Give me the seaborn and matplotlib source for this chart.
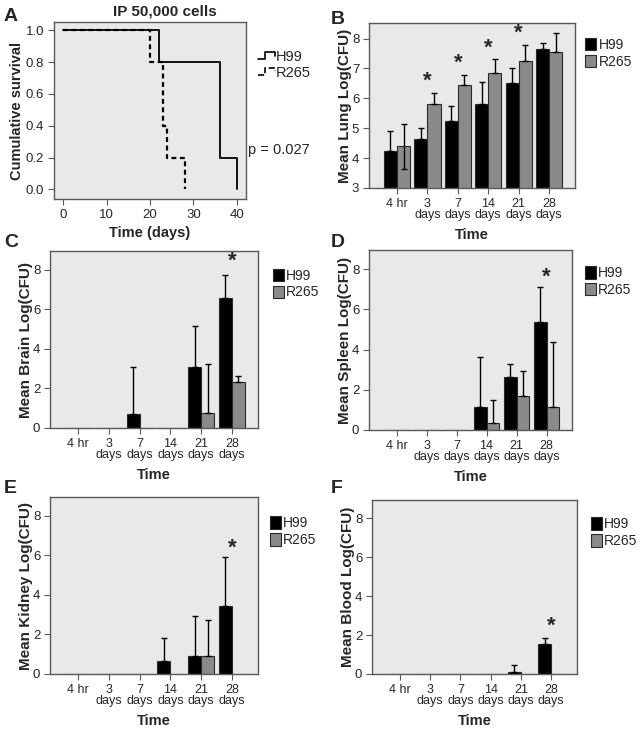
import numpy as np
import pandas as pd
import matplotlib
matplotlib.use('Agg')
import matplotlib.pyplot as plt
import seaborn as sns
from matplotlib.lines import Line2D
from matplotlib.legend_handler import HandlerBase

# Survival data (panel A)
h99_time = [0, 22, 36, 40]
h99_surv = [1.0, 0.8, 0.2, 0.0]
r265_time = [0, 20, 23, 24, 28]
r265_surv = [1.0, 0.8, 0.4, 0.2, 0.0]

# Organ burden data (panels B-F)
times = ['4 hr', '3\ndays', '7\ndays', '14\ndays', '21\ndays', '28\ndays']
strains = ['H99', 'R265']
nan = np.nan

lung_h99 = [4.25, 4.65, 5.25, 5.8, 6.5, 7.65]
lung_r265 = [4.4, 5.8, 6.45, 6.85, 7.25, 7.55]
lung_h99_top = [4.9, 5.0, 5.73, 6.53, 7.0, 7.85]
lung_r265_top = [5.15, 6.17, 6.77, 7.33, 7.78, 8.2]
lung_r265_low = [3.65, nan, nan, nan, nan, nan]
lung_sig = [1, 2, 3, 4]
lung_sig_y = [6.56, 7.19, 7.67, 8.17]

brain_h99 = [0, 0, 0.7, 0, 3.1, 6.6]
brain_r265 = [0, 0, 0, 0, 0.75, 2.35]
brain_h99_top = [nan, nan, 3.1, nan, 5.15, 7.75]
brain_r265_top = [nan, nan, nan, nan, 3.25, 2.65]

spleen_h99 = [0, 0, 0, 1.15, 2.65, 5.4]
spleen_r265 = [0, 0, 0, 0.35, 1.7, 1.15]
spleen_h99_top = [nan, nan, nan, 3.65, 3.3, 7.1]
spleen_r265_top = [nan, nan, nan, 1.5, 2.95, 4.4]

kidney_h99 = [0, 0, 0, 0.68, 0.9, 3.45]
kidney_r265 = [0, 0, 0, 0, 0.92, 0]
kidney_h99_top = [nan, nan, nan, 1.82, 2.93, 5.93]
kidney_r265_top = [nan, nan, nan, nan, 2.72, nan]

blood_h99 = [0, 0, 0, 0, 0.08, 1.52]
blood_r265 = [0, 0, 0, 0, 0, 0]
blood_h99_top = [nan, nan, nan, nan, 0.45, 1.85]
blood_r265_top = [nan, nan, nan, nan, nan, nan]

sns.set_style('white')
plt.rcParams['font.family'] = ['Liberation Sans', 'DejaVu Sans']

BG = '#e9e9e9'
SPINE = '#5a5a5a'
GREY = '#8a8a8a'

fig = plt.figure(figsize=(6.4, 7.35), dpi=100)
W, H = 640, 735


def add_ax(left, right, top, bottom):
    return fig.add_axes([left / W, 1 - bottom / H, (right - left) / W, (bottom - top) / H])


def style_ax(ax, size=9.5):
    ax.set_facecolor(BG)
    for s in ax.spines.values():
        s.set_color(SPINE)
        s.set_linewidth(1.0)
    ax.tick_params(axis='both', direction='out', length=4.5, width=0.8, color=SPINE,
                   labelsize=size, pad=2.5, left=True, bottom=True)


class StepHandler(HandlerBase):
    def create_artists(self, legend, orig_handle, xdescent, ydescent, width, height, fontsize, trans):
        x = np.array([0, 0.45, 0.45, 1.0, 1.0]) * width - xdescent
        y = np.array([0.2, 0.2, 0.9, 0.9, 0.55]) * height - ydescent
        ln = Line2D(x, y, color='black', lw=1.2, linestyle=orig_handle.get_linestyle())
        ln.set_transform(trans)
        return [ln]


def bar_panel(ax, h99, r265, h99_top, r265_top, ylabel, ylim, yticks,
              sig, sig_y, leg_anchor, r265_low=None):
    df = pd.DataFrame({'Time': times * 2,
                       'Strain': ['H99'] * 6 + ['R265'] * 6,
                       'value': h99 + r265})
    sns.barplot(data=df, x='Time', y='value', hue='Strain', order=times,
                hue_order=strains, palette={'H99': 'black', 'R265': GREY},
                width=0.86, errorbar=None, edgecolor='#2a2a2a', linewidth=0.8,
                saturation=1, legend=False, ax=ax, zorder=2)
    lows = [None, r265_low]
    for cont, mean, top, low in zip(ax.containers, [h99, r265], [h99_top, r265_top], lows):
        xs = np.array([b.get_x() + b.get_width() / 2 for b in cont])
        m = np.array(mean, dtype=float)
        t = np.array(top, dtype=float)
        lo = np.zeros_like(m) if low is None else np.nan_to_num(m - np.array(low, dtype=float))
        ok = ~np.isnan(t)
        ax.errorbar(xs[ok], m[ok], yerr=[lo[ok], (t - m)[ok]], fmt='none',
                    ecolor='black', elinewidth=1.0, capsize=2.5, capthick=1.0, zorder=3)
    for i, yv in zip(sig, sig_y):
        ax.text(i, yv, '*', ha='center', va='center', fontsize=16, fontweight='bold')
    ax.set_xlim(-0.92, 5.85)
    ax.set_ylim(*ylim)
    ax.set_yticks(yticks)
    ax.set_xlabel('Time', fontsize=10.5, fontweight='bold', labelpad=5)
    ax.set_ylabel(ylabel, fontsize=11, fontweight='bold', labelpad=0)
    style_ax(ax)
    ax.tick_params(axis='x', labelsize=9)
    for lbl in ax.get_xticklabels():
        lbl.set_linespacing(0.95)
    ax.legend(ax.containers, strains, loc='upper left', bbox_to_anchor=leg_anchor,
              frameon=False, fontsize=10, handlelength=0.8, handleheight=1.0,
              handletextpad=0.15, labelspacing=0.2, borderaxespad=0, borderpad=0)


# Panel A: survival
axA = add_ax(54, 246, 22, 199)
sns.lineplot(x=h99_time, y=h99_surv, drawstyle='steps-post', color='black',
             lw=1.3, ax=axA, sort=False)
sns.lineplot(x=r265_time, y=r265_surv, drawstyle='steps-post', color='black',
             lw=1.6, ax=axA, sort=False, linestyle=(0, (2.2, 1.6)))
axA.set_xlim(-2.1, 42.1)
axA.set_ylim(-0.06, 1.052)
axA.set_xticks([0, 10, 20, 30, 40])
axA.set_yticks([0, 0.2, 0.4, 0.6, 0.8, 1.0])
axA.set_yticklabels(['0.0', '0.2', '0.4', '0.6', '0.8', '1.0'])
style_ax(axA, size=9.5)
axA.set_xlabel('Time (days)', fontsize=10.5, fontweight='bold', labelpad=4)
axA.set_ylabel('Cumulative survival', fontsize=10.5, fontweight='bold', labelpad=1)
axA.set_title('IP 50,000 cells', fontsize=11, fontweight='bold', pad=5, x=0.58)
hA = [Line2D([], [], color='black', linestyle='-'),
      Line2D([], [], color='black', linestyle=(0, (2, 1.5)))]
axA.legend(hA, ['H99', 'R265'], handler_map={Line2D: StepHandler()},
           loc='upper left', bbox_to_anchor=(1.06, 0.84), frameon=False,
           fontsize=10.5, handlelength=1.2, handletextpad=0.05, labelspacing=0.1,
           borderaxespad=0, borderpad=0)
axA.text(1.01, 0.277, 'p = 0.027', transform=axA.transAxes, fontsize=10.5,
         ha='left', va='center')

# Panel B: lung
axB = add_ax(369, 575, 23, 188)
bar_panel(axB, lung_h99, lung_r265, lung_h99_top, lung_r265_top,
          'Mean Lung Log(CFU)', (3, 8.52), [3, 4, 5, 6, 7, 8],
          lung_sig, lung_sig_y, (1.05, 0.91), r265_low=lung_r265_low)

# Panel C: brain
axC = add_ax(50, 258, 251, 428)
bar_panel(axC, brain_h99, brain_r265, brain_h99_top, brain_r265_top,
          'Mean Brain Log(CFU)', (0, 8.96), [0, 2, 4, 6, 8],
          [5], [8.42], (1.07, 0.9))

# Panel D: spleen
axD = add_ax(369, 572, 250, 430)
bar_panel(axD, spleen_h99, spleen_r265, spleen_h99_top, spleen_r265_top,
          'Mean Spleen Log(CFU)', (0, 8.96), [0, 2, 4, 6, 8],
          [5], [7.63], (1.064, 0.91))

# Panel E: kidney
axE = add_ax(50, 258, 497, 674)
bar_panel(axE, kidney_h99, kidney_r265, kidney_h99_top, kidney_r265_top,
          'Mean Kidney Log(CFU)', (0, 8.95), [0, 2, 4, 6, 8],
          [5], [6.36], (1.058, 0.89))

# Panel F: blood
axF = add_ax(372, 577, 500, 674)
bar_panel(axF, blood_h99, blood_r265, blood_h99_top, blood_r265_top,
          'Mean Blood Log(CFU)', (0, 8.94), [0, 2, 4, 6, 8],
          [5], [2.47], (1.068, 0.9))

# Panel letters
for lab, (px, py) in zip('ABCDEF', [(4, 8), (331, 11), (4, 234), (331, 234), (4, 480), (331, 480)]):
    fig.text(px / W, 1 - py / H, lab, fontsize=14, fontweight='bold', ha='left', va='top')

fig.savefig('out.png', dpi=100)
